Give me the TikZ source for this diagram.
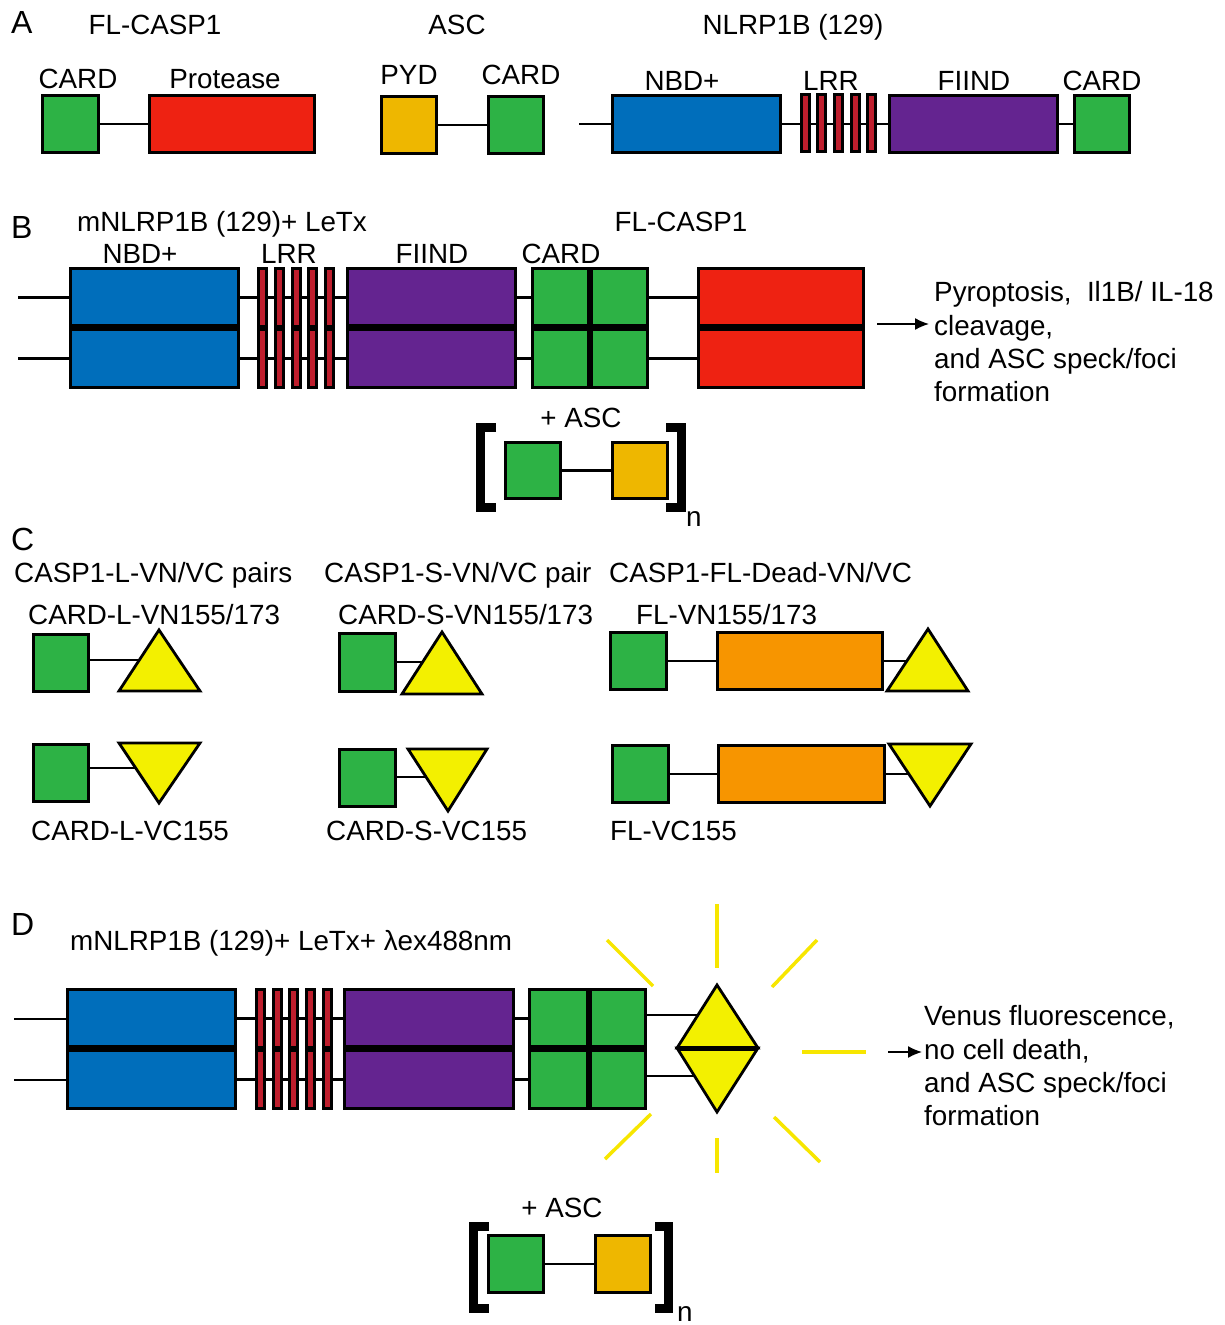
\documentclass[tikz,border=0pt]{standalone}
\usepackage{fontspec}
\setmainfont{Liberation Sans}
\usetikzlibrary{arrows.meta}
\definecolor{cgreen}{HTML}{2DB245}
\definecolor{cred}{HTML}{EE2212}
\definecolor{cblue}{HTML}{006EBB}
\definecolor{cpurple}{HTML}{642490}
\definecolor{clrr}{HTML}{BE1E2D}
\definecolor{casc}{HTML}{EEB700}
\definecolor{corange}{HTML}{F79500}
\definecolor{cyellow}{HTML}{F3F000}
\definecolor{cray}{HTML}{F7E600}
\newcommand{\mybox}[6]{\node[dom,fill=#6,minimum width={#4pt-#2pt-2.8pt},minimum height={#5pt-#3pt-2.8pt}] (#1) at ({(#2+#4)/2},{(#3+#5)/2}) {};}
\begin{document}
\begin{tikzpicture}[x=1pt,y=-1pt,
  dom/.style={draw=black,line width=2.8pt,inner sep=0pt,outer sep=0pt},
  conn/.style={draw=black,line width=2.5pt},
  midline/.style={draw=black,line width=5pt},
  vmidline/.style={draw=black,line width=4pt},
  tri/.style={fill=cyellow,draw=black,line width=2.8pt,line join=miter},
  brk/.style={draw=black,line width=9pt,line join=miter},
  ray/.style={draw=cray,line width=3.5pt},
  arr/.style={draw=black,line width=1.5pt,-{Latex[length=14pt,width=12pt]}},
  lbl/.style={inner sep=0pt,font=\fontsize{27.8}{33}\selectfont},
  big/.style={inner sep=0pt,font=\fontsize{32}{36}\selectfont},
  txt/.style={inner sep=0pt,align=left,font=\fontsize{27.8}{33.3}\selectfont}]
\useasboundingbox (0,0) rectangle (1225,1325);

% ---------------- Panel A
\node[big,anchor=base west] (la) at (11,33) {A};
\node[lbl,anchor=base] (tFL) at (155,34) {FL-CASP1};
\node[lbl,anchor=base] (tASC) at (457,34) {ASC};
\node[lbl,anchor=base] (tNL) at (793,34) {NLRP1B (129)};
\node[lbl,anchor=base] (tCard1) at (78,88) {CARD};
\node[lbl,anchor=base] (tProt) at (225,88) {Protease};
\node[lbl,anchor=base] (tPyd) at (409,84) {PYD};
\node[lbl,anchor=base] (tCard2) at (521,84) {CARD};
\node[lbl,anchor=base] (tNbd) at (682,90) {NBD+};
\node[lbl,anchor=base] (tLrr) at (831,90) {LRR};
\node[lbl,anchor=base] (tFiind) at (974,90) {FIIND};
\node[lbl,anchor=base] (tCard3) at (1102,90) {CARD};

\mybox{aCard}{41}{94}{100}{154}{cgreen}
\mybox{aProt}{148}{94}{316}{154}{cred}
\draw[conn] (aCard.east) -- (aProt.west);
\mybox{aPyd}{380}{95}{438}{155}{casc}
\mybox{aAscCard}{487}{95}{545}{155}{cgreen}
\draw[conn] (aPyd.east) -- (aAscCard.west);
\coordinate (aN0) at (579,124);
\mybox{aNbd}{611}{94}{782}{154}{cblue}
\mybox{aFiind}{888}{94}{1059}{154}{cpurple}
\mybox{aNCard}{1073}{94}{1131}{154}{cgreen}
\draw[conn] (aN0) -- (aN0 -| aNbd.west);
\draw[conn] (aNbd.east) -- (aFiind.west);
\draw[conn] (aFiind.east) -- (aNCard.west);
\mybox{aL1}{800}{93}{811}{153}{clrr}
\mybox{aL2}{816}{93}{827}{153}{clrr}
\mybox{aL3}{833}{93}{844}{153}{clrr}
\mybox{aL4}{850}{93}{861}{153}{clrr}
\mybox{aL5}{866}{93}{877}{153}{clrr}

% ---------------- Panel B
\node[big,anchor=base west] (lb) at (11,238) {B};
\node[lbl,anchor=base west] (tB1) at (77,231) {mNLRP1B (129)+ LeTx};
\node[lbl,anchor=base] (tB2) at (681,231) {FL-CASP1};
\node[lbl,anchor=base] (tBNbd) at (140,263) {NBD+};
\node[lbl,anchor=base] (tBLrr) at (289,263) {LRR};
\node[lbl,anchor=base] (tBFiind) at (432,263) {FIIND};
\node[lbl,anchor=base] (tBCard) at (561,263) {CARD};

\coordinate (bS1) at (18,297.5);
\coordinate (bS2) at (18,358.5);
\mybox{bNbdT}{69}{267}{240}{328}{cblue}
\mybox{bNbdB}{69}{328}{240}{389}{cblue}
\mybox{bFiT}{346}{267}{517}{328}{cpurple}
\mybox{bFiB}{346}{328}{517}{389}{cpurple}
\mybox{bCaTL}{531}{267}{590}{328}{cgreen}
\mybox{bCaTR}{590}{267}{649}{328}{cgreen}
\mybox{bCaBL}{531}{328}{590}{389}{cgreen}
\mybox{bCaBR}{590}{328}{649}{389}{cgreen}
\mybox{bCsT}{697}{267}{865}{328}{cred}
\mybox{bCsB}{697}{328}{865}{389}{cred}
\draw[conn] (bS1) -- (bS1 -| bNbdT.west);
\draw[conn] (bS2) -- (bS2 -| bNbdB.west);
\draw[conn] (bNbdT.east) -- (bFiT.west);
\draw[conn] (bNbdB.east) -- (bFiB.west);
\draw[conn] (bFiT.east) -- (bCaTL.west);
\draw[conn] (bFiB.east) -- (bCaBL.west);
\draw[conn] (bCaTR.east) -- (bCsT.west);
\draw[conn] (bCaBR.east) -- (bCsB.west);
\draw[midline] (bNbdT.south west) -- (bNbdT.south east);
\draw[midline] (bFiT.south west) -- (bFiT.south east);
\draw[midline] (bCaTL.south west) -- (bCaTR.south east);
\draw[vmidline] (bCaTL.north east) -- (bCaBL.south east);
\draw[midline] (bCsT.south west) -- (bCsT.south east);
\foreach \i/\xa/\xb in {1/257/267.5,2/274/284.5,3/291/301.5,4/307/317.5,5/324/334.5}{
  \mybox{bLT\i}{\xa}{267}{\xb}{328}{clrr}
  \mybox{bLB\i}{\xa}{328}{\xb}{389}{clrr}
}
\coordinate (bA0) at (877,324);
\coordinate (bA1) at (929,324);
\draw[arr] (bA0) -- (bA1);
\node[txt,anchor=north west] (bRes) at (934,281.5) {Pyroptosis,\hspace{0.55em}Il1B/ IL-18\\cleavage,\\and ASC speck/foci\\formation};
\node[lbl,anchor=base] (bPlus) at (581,427) {+ ASC};
\mybox{bAscCard}{504}{441}{562}{500}{cgreen}
\mybox{bAscPyd}{611}{441}{669}{500}{casc}
\draw[conn] (bAscCard.east) -- (bAscPyd.west);
\draw[brk] (496,427.5) -- (480.5,427.5) -- (480.5,507.5) -- (496,507.5);
\draw[brk] (666,427.5) -- (681,427.5) -- (681,507.5) -- (666,507.5);
\node[lbl,anchor=base west] (bN) at (686,526) {n};

% ---------------- Panel C
\node[big,anchor=base west] (lc) at (11,550) {C};
\node[lbl,anchor=base west] (tC1) at (14,582) {CASP1-L-VN/VC pairs};
\node[lbl,anchor=base west] (tC2) at (324,582) {CASP1-S-VN/VC pair};
\node[lbl,anchor=base west] (tC3) at (609,582) {CASP1-FL-Dead-VN/VC};
\node[lbl,anchor=base west] (tC4) at (28,624) {CARD-L-VN155/173};
\node[lbl,anchor=base west] (tC5) at (338,624) {CARD-S-VN155/173};
\node[lbl,anchor=base west] (tC6) at (636,624) {FL-VN155/173};
\node[lbl,anchor=base west] (tC7) at (31,840) {CARD-L-VC155};
\node[lbl,anchor=base west] (tC8) at (326,840) {CARD-S-VC155};
\node[lbl,anchor=base west] (tC9) at (610,840) {FL-VC155};

% group L
\mybox{cLt}{32}{633}{90}{693}{cgreen}
\coordinate (cLtT) at (145,660);
\draw[conn] (cLt.east |- cLtT) -- (cLtT);
\filldraw[tri] (119,691) -- (159,630) -- (200,691) -- cycle;
\mybox{cLb}{32}{743}{90}{803}{cgreen}
\coordinate (cLbT) at (140,768);
\draw[conn] (cLb.east |- cLbT) -- (cLbT);
\filldraw[tri] (119,743) -- (200,743) -- (159,803) -- cycle;
% group S
\mybox{cSt}{338}{632}{397}{693}{cgreen}
\coordinate (cStT) at (425,662);
\draw[conn] (cSt.east |- cStT) -- (cStT);
\filldraw[tri] (402,694) -- (442,632) -- (482,694) -- cycle;
\mybox{cSb}{338}{748}{397}{808}{cgreen}
\coordinate (cSbT) at (428,777);
\draw[conn] (cSb.east |- cSbT) -- (cSbT);
\filldraw[tri] (408,749) -- (487,749) -- (448,811) -- cycle;
% group FL
\mybox{cFt}{609}{631}{668}{691}{cgreen}
\mybox{cFto}{716}{631}{884}{691}{corange}
\draw[conn] (cFt.east) -- (cFto.west);
\coordinate (cFtT) at (915,661);
\draw[conn] (cFto.east |- cFtT) -- (cFtT);
\filldraw[tri] (887,691) -- (928,629) -- (968,691) -- cycle;
\mybox{cFb}{611}{744}{670}{804}{cgreen}
\mybox{cFbo}{717}{744}{886}{804}{corange}
\draw[conn] (cFb.east) -- (cFbo.west);
\coordinate (cFbT) at (915,774);
\draw[conn] (cFbo.east |- cFbT) -- (cFbT);
\filldraw[tri] (889,744) -- (971,744) -- (930,806) -- cycle;

% ---------------- Panel D
\node[big,anchor=base west] (ld) at (11,935) {D};
\node[lbl,anchor=base west] (tD1) at (70,950) {mNLRP1B (129)+ LeTx+ λex488nm};

\coordinate (dS1) at (14,1019);
\coordinate (dS2) at (14,1080);
\mybox{dNbdT}{66}{988}{237}{1049}{cblue}
\mybox{dNbdB}{66}{1049}{237}{1110}{cblue}
\mybox{dFiT}{343}{988}{515}{1049}{cpurple}
\mybox{dFiB}{343}{1049}{515}{1110}{cpurple}
\mybox{dCaTL}{528}{988}{589}{1049}{cgreen}
\mybox{dCaTR}{589}{988}{647}{1049}{cgreen}
\mybox{dCaBL}{528}{1049}{589}{1110}{cgreen}
\mybox{dCaBR}{589}{1049}{647}{1110}{cgreen}
\draw[conn] (dS1) -- (dS1 -| dNbdT.west);
\draw[conn] (dS2) -- (dS2 -| dNbdB.west);
\draw[conn] (dNbdT.east) -- (dFiT.west);
\draw[conn] (dNbdB.east) -- (dFiB.west);
\draw[conn] (dFiT.east) -- (dCaTL.west);
\draw[conn] (dFiB.east) -- (dCaBL.west);
\draw[midline] (dNbdT.south west) -- (dNbdT.south east);
\draw[midline] (dFiT.south west) -- (dFiT.south east);
\draw[midline] (dCaTL.south west) -- (dCaTR.south east);
\draw[vmidline] (dCaTL.north east) -- (dCaBL.south east);
\foreach \i/\xa/\xb in {1/255/266,2/272/283,3/288/299,4/305/316,5/322/333}{
  \mybox{dLT\i}{\xa}{988}{\xb}{1049}{clrr}
  \mybox{dLB\i}{\xa}{1049}{\xb}{1110}{clrr}
}
\coordinate (dV1) at (705,1015);
\coordinate (dV2) at (705,1076);
\draw[conn] (dCaTR.east |- dV1) -- (dV1);
\draw[conn] (dCaBR.east |- dV2) -- (dV2);
\filldraw[tri] (677,1048) -- (717,985) -- (758,1048) -- cycle;
\filldraw[tri] (677,1048) -- (758,1048) -- (717,1112) -- cycle;
\draw[midline] (677,1048) -- (758,1048);
% rays
\draw[ray] (717,904) -- (717,968);
\draw[ray] (607,940) -- (653,986);
\draw[ray] (817,940) -- (772,987);
\draw[ray] (802,1052) -- (866,1052);
\draw[ray] (651,1114) -- (605,1159);
\draw[ray] (774,1117) -- (820,1162);
\draw[ray] (717,1138) -- (717,1173);
\coordinate (dA0) at (888,1052);
\coordinate (dA1) at (922,1052);
\draw[arr] (dA0) -- (dA1);
\node[txt,anchor=north west] (dRes) at (924,1005.5) {Venus fluorescence,\\no cell death,\\and ASC speck/foci\\formation};
\node[lbl,anchor=base] (dPlus) at (562,1217) {+ ASC};
\mybox{dAscCard}{487}{1234}{545}{1294}{cgreen}
\mybox{dAscPyd}{594}{1234}{652}{1294}{casc}
\draw[conn] (dAscCard.east) -- (dAscPyd.west);
\draw[brk] (489,1226.5) -- (473,1226.5) -- (473,1308.5) -- (489,1308.5);
\draw[brk] (655,1226.5) -- (668,1226.5) -- (668,1308.5) -- (655,1308.5);
\node[lbl,anchor=base west] (dN) at (677,1321) {n};
\end{tikzpicture}
\end{document}
